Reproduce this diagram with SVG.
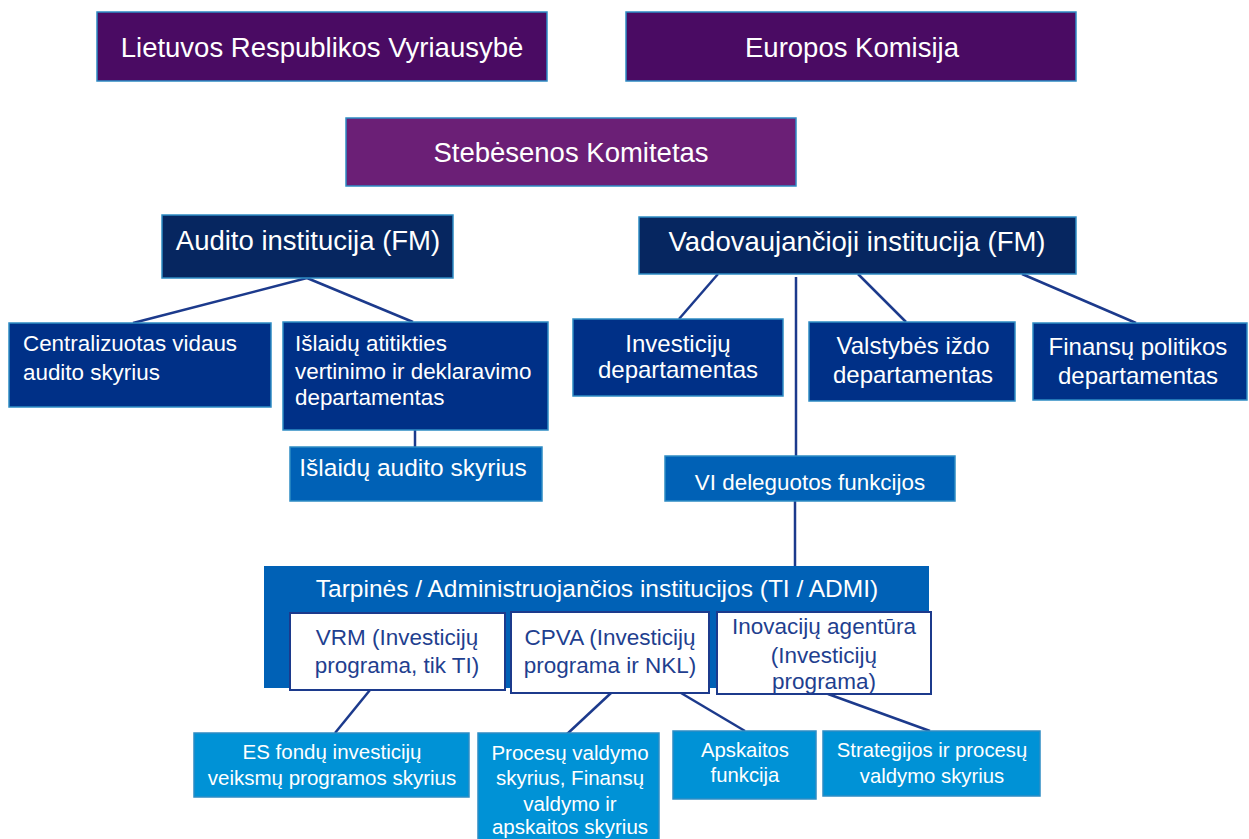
<svg xmlns="http://www.w3.org/2000/svg" width="1249" height="839" viewBox="0 0 1249 839">
<style>
text{font-family:"Liberation Sans",Arial,sans-serif;fill:#fff}
.b{stroke:#2e8cc4;stroke-width:1.5}
.p1{fill:#4a0b63}.p2{fill:#6b1f76}.n1{fill:#062660}.n2{fill:#003087}.m{fill:#0061b6}.l{fill:#0092d6}
.w{fill:#fff;stroke:#1c3a8c;stroke-width:2}
.wt{fill:#1f3f8f}
.c line{stroke:#1c3a8c;stroke-width:2.5}
.mid{text-anchor:middle}
</style>
<rect width="1249" height="839" fill="#fff"/>
<g class="c">
<line x1="307" y1="278" x2="133" y2="323"/>
<line x1="307" y1="278" x2="413" y2="322"/>
<line x1="415" y1="430" x2="415" y2="447"/>
<line x1="718" y1="274" x2="679" y2="319"/>
<line x1="796" y1="277" x2="796" y2="456"/>
<line x1="858" y1="274" x2="906" y2="322"/>
<line x1="1022" y1="274" x2="1136" y2="323"/>
<line x1="795" y1="501" x2="795" y2="566"/>
<line x1="370" y1="690" x2="335" y2="733"/>
<line x1="611" y1="693" x2="566" y2="735"/>
<line x1="681" y1="693" x2="745" y2="731"/>
<line x1="828" y1="694" x2="930" y2="731"/>
</g>
<g id="lrv"><rect class="p1 b" x="97" y="12" width="450" height="69"/><text class="mid" x="322" y="57" font-size="27.5">Lietuvos Respublikos Vyriausybė</text></g>
<g id="ek"><rect class="p1 b" x="626" y="12" width="450" height="69"/><text class="mid" x="852" y="57" font-size="27.5">Europos Komisija</text></g>
<g id="sk"><rect class="p2 b" x="346" y="118" width="450" height="68"/><text class="mid" x="571" y="162" font-size="27.5">Stebėsenos Komitetas</text></g>
<g id="ai"><rect class="n1 b" x="162" y="215" width="291" height="63"/><text class="mid" x="308" y="250" font-size="27.5">Audito institucija (FM)</text></g>
<g id="vi"><rect class="n1 b" x="639" y="217" width="437" height="57"/><text class="mid" x="857" y="251" font-size="27.5">Vadovaujančioji institucija (FM)</text></g>
<g id="cvas"><rect class="n2 b" x="9" y="323" width="262" height="84"/><text x="23" y="351" font-size="22.4">Centralizuotas vidaus</text><text x="23" y="380" font-size="22.4">audito skyrius</text></g>
<g id="iavd"><rect class="n2 b" x="283" y="322" width="265" height="108"/><text x="295" y="351" font-size="22.4">Išlaidų atitikties</text><text x="295" y="379" font-size="22.4">vertinimo ir deklaravimo</text><text x="295" y="405" font-size="22.4">departamentas</text></g>
<g id="ias"><rect class="m b" x="290" y="447" width="252" height="54"/><text class="mid" x="413" y="476" font-size="24.5">Išlaidų audito skyrius</text></g>
<g id="id"><rect class="n2 b" x="573" y="319" width="210" height="77"/><text class="mid" x="678" y="352" font-size="24">Investicijų</text><text class="mid" x="678" y="378" font-size="24">departamentas</text></g>
<g id="vid"><rect class="n2 b" x="809" y="322" width="206" height="79"/><text class="mid" x="913" y="354" font-size="24">Valstybės iždo</text><text class="mid" x="913" y="383" font-size="24">departamentas</text></g>
<g id="fpd"><rect class="n2 b" x="1033" y="323" width="214" height="77"/><text class="mid" x="1138" y="355" font-size="24">Finansų politikos</text><text class="mid" x="1138" y="384" font-size="24">departamentas</text></g>
<g id="vdf"><rect class="m b" x="665" y="456" width="290" height="45"/><text class="mid" x="810" y="490" font-size="22.4">VI deleguotos funkcijos</text></g>
<g id="ti"><rect class="m" x="264" y="566" width="665" height="122"/><text class="mid" x="597" y="597" font-size="24.5">Tarpinės / Administruojančios institucijos (TI / ADMI)</text></g>
<g id="vrm"><rect class="w" x="290" y="613" width="215" height="77"/><text class="mid wt" x="397" y="645" font-size="22.5">VRM (Investicijų</text><text class="mid wt" x="397" y="673" font-size="22.5">programa, tik TI)</text></g>
<g id="cpva"><rect class="w" x="511" y="612" width="198" height="81"/><text class="mid wt" x="610" y="645" font-size="22.5">CPVA (Investicijų</text><text class="mid wt" x="610" y="673" font-size="22.5">programa ir NKL)</text></g>
<g id="ia"><rect class="w" x="717" y="612" width="214" height="82"/><text class="mid wt" x="824" y="634" font-size="22.5">Inovacijų agentūra</text><text class="mid wt" x="824" y="663" font-size="22.5">(Investicijų</text><text class="mid wt" x="824" y="689" font-size="22.5">programa)</text></g>
<g id="esf"><rect class="l b" x="194" y="733" width="275" height="64"/><text class="mid" x="332" y="759" font-size="20.5">ES fondų investicijų</text><text class="mid" x="332" y="785" font-size="20.5">veiksmų programos skyrius</text></g>
<g id="pvs"><rect class="l b" x="478" y="733" width="181" height="110"/><text class="mid" x="570" y="760" font-size="20.5">Procesų valdymo</text><text class="mid" x="570" y="785" font-size="20.5">skyrius, Finansų</text><text class="mid" x="570" y="811" font-size="20.5">valdymo ir</text><text class="mid" x="570" y="834" font-size="20.5">apskaitos skyrius</text></g>
<g id="af"><rect class="l b" x="673" y="731" width="143" height="68"/><text class="mid" x="745" y="757" font-size="20.3">Apskaitos</text><text class="mid" x="745" y="782" font-size="20.3">funkcija</text></g>
<g id="sps"><rect class="l b" x="823" y="731" width="217" height="65"/><text class="mid" x="932" y="757" font-size="20.3">Strategijos ir procesų</text><text class="mid" x="932" y="783" font-size="20.3">valdymo skyrius</text></g>
</svg>
